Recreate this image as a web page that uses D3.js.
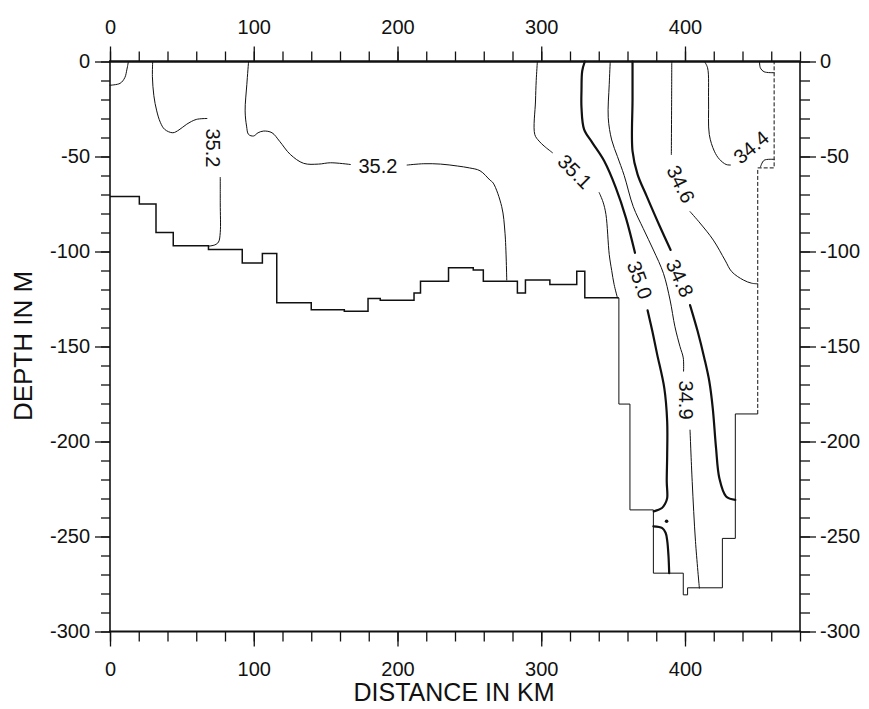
<!DOCTYPE html>
<html>
<head>
<meta charset="utf-8">
<script src="https://cdn.jsdelivr.net/npm/d3@7"></script>
<style>
  body { margin: 0; background: #fff; }
  svg text { font-family: "Liberation Sans", Arial, Helvetica, sans-serif; fill: #111; }
</style>
</head>
<body>
<svg id="fig"></svg>
<script>
var W = 869, H = 709;

// axis ticks
var kmTicks = [0, 100, 200, 300, 400];
var kmMinor = d3.range(0, 481, 20);
var depthTicks = [0, -50, -100, -150, -200, -250, -300];
var depthMinor = d3.range(0, -301, -10);

// sea floor: shelf (step after), trough (step before), open right edge
var shelfKm    = [0, 20.4, 32, 44, 68.5, 92, 106, 116, 140, 163, 179.5, 188, 211.5, 216, 235.5, 252.7, 259.7, 283.4, 289, 306, 324.7, 330.3, 354];
var shelfDepth = [-71, -75, -90, -97, -99, -106, -101, -127, -130.6, -131.5, -124.8, -125.7, -121.8, -115.6, -108.6, -109.7, -115.6, -121.8, -115, -117.4, -110.4, -124.4, -124.4];
var troughKm    = [354, 361.7, 378, 398.8, 401.8, 426, 435, 450.6];
var troughDepth = [-124.4, -180.3, -236, -269.3, -280.7, -277, -251, -185.5];
var edgeKm    = [450.6, 462, 462];
var edgeDepth = [-185.5, -56, 0];

// salinity contours, [km, depth], one array per unbroken piece
var c353Corner = [[12.8, 0], [11.8, -4], [10.3, -8.5], [7, -11.5], [0, -12.5]];
var c352WestA = [[29.7, 0], [29.5, -8], [30.5, -18], [32.5, -26], [35, -32], [38, -35.7], [43.7, -37.5], [48, -36], [53.4, -33], [60, -30.5], [67.4, -30]];
var c352WestB = [[76.7, -61], [76.7, -75], [76.7, -90], [75.5, -95], [73, -96.5], [68.5, -97.2]];
var c352MidA = [[96.4, 0], [95.2, -12], [94, -26], [95, -34], [96.4, -38.4], [99.9, -39.2], [103, -37.5], [106.9, -36.6], [112.7, -37.5], [118, -42], [125.4, -48.9], [134.7, -53.6], [145, -54], [153.3, -53.3], [167.2, -54.2]];
var c352MidB = [[206.7, -54.5], [218.3, -53.8], [230, -54], [241.6, -55], [250, -56], [257.4, -57.5], [264.3, -62.4], [266.6, -64], [272.5, -76.4], [274.8, -90.4], [276, -115]];
var c351A = [[297.3, 0], [296.5, -10], [296, -20.8], [295.5, -38.4], [298.5, -41.9], [302, -44.5], [307.8, -48]];
var c351B = [[340.3, -69], [343, -74], [345, -80.5], [347.3, -101.6], [349, -110], [350.7, -117.4], [353, -124.4]];
var c350A = [[330.3, 0], [328.5, -5], [328, -15], [328, -24.3], [329.8, -35.7], [335.6, -42.8], [343.8, -52.4], [351.9, -66.5], [358.9, -82.3], [365.2, -100.7]];
var c350B = [[374, -131], [377.3, -142], [380.6, -154], [385.6, -171.9], [387.6, -189.4], [387.6, -207], [387.3, -221], [387.6, -229.8], [386, -233], [384, -235], [378.3, -236.8]];
var c350C = [[378, -244.7], [384.2, -245.6], [386.5, -248], [387.6, -252], [388.5, -260], [389, -269.3]];
var c349A = [[348, 0], [347.3, -12], [346.6, -29.6], [349, -41.3], [353, -50], [357.7, -60], [364, -76.4], [371, -88], [378, -99.2], [385, -111.5], [389.6, -125.5], [393, -139.6], [396.5, -150], [398.8, -156], [399, -163]];
var c349B = [[403.5, -194], [405, -221], [407.3, -252.6], [410, -277.2]];
var c348A = [[363.5, 0], [363.5, -20], [363.5, -47.2], [367, -59.4], [373.4, -71], [382.6, -87], [390, -99.2]];
var c348B = [[403.5, -128.2], [408.8, -142], [413.4, -156], [416.9, -168.3], [419.3, -182.4], [421.6, -203.5], [423.9, -219.3], [428.6, -228.9], [435, -230.7]];
var c346A = [[390.8, 0], [390.7, -20], [390.5, -49]];
var c346B = [[403.5, -79], [410.4, -85], [419.7, -94], [427.8, -104.5], [432.5, -110.6], [440.6, -115], [446.4, -116.7], [450.6, -117]];
var c344A = [[413.5, 0], [415.7, -3.3], [416.4, -20.8], [416.9, -38.4], [420.4, -47.2], [424, -51.5], [428.6, -54.2], [431.6, -54.5]];
var c344B = [[452.5, -55.5], [455, -52], [462, -51.5]];
var c344Top = [[451.8, 0], [452.5, -3.5], [455, -5.4], [462, -5.9]];

var thinContours = [c353Corner, c352WestA, c352WestB, c352MidA, c352MidB, c351A, c351B, c349A, c349B, c346A, c346B, c344A, c344B, c344Top];
var thickContours = [c350A, c350B, c350C, c348A, c348B];

// contour labels
var labelText  = ["35.2", "35.2", "35.1", "35.0", "34.8", "34.6", "34.4", "34.9"];
var labelKm    = [71.7, 186.4, 323.5, 368.7, 396.5, 397.2, 445.9, 400.7];
var labelDepth = [-45.5, -54.7, -57.9, -115, -114, -64.5, -45, -178.2];
var labelAngle = [90, 0, 45, 70, 65, 64, -40, 90];

var spotKm = [387.2], spotDepth = [-242];

var svg = d3.select("#fig").attr("width", W).attr("height", H);

var x = d3.scaleLinear().domain([0, 480]).range([110, 800]);
var y = d3.scaleLinear().domain([0, -300]).range([61.5, 631.5]);

var fmt = function(d) { return String(d); };

function styleAxis(g) {
  g.select(".domain").remove();
  g.selectAll("line").attr("stroke", "#111").attr("stroke-width", 1.3);
  g.selectAll("text").attr("font-size", 20).attr("font-family", null).attr("fill", "#111");
}

// minor ticks
svg.append("g").attr("transform", "translate(0,61.5)")
  .call(d3.axisTop(x).tickValues(kmMinor).tickSize(10).tickFormat("")).call(styleAxis);
svg.append("g").attr("transform", "translate(0,631.5)")
  .call(d3.axisBottom(x).tickValues(kmMinor).tickSize(10).tickFormat("")).call(styleAxis);
svg.append("g").attr("transform", "translate(110,0)")
  .call(d3.axisLeft(y).tickValues(depthMinor).tickSize(9).tickFormat("")).call(styleAxis);
svg.append("g").attr("transform", "translate(800,0)")
  .call(d3.axisRight(y).tickValues(depthMinor).tickSize(10).tickFormat("")).call(styleAxis);

// major ticks with labels
svg.append("g").attr("transform", "translate(0,61.5)")
  .call(d3.axisTop(x).tickValues(kmTicks).tickSize(15).tickPadding(13).tickFormat(fmt)).call(styleAxis);
svg.append("g").attr("transform", "translate(0,631.5)")
  .call(d3.axisBottom(x).tickValues(kmTicks).tickSize(15).tickPadding(15).tickFormat(fmt)).call(styleAxis);
svg.append("g").attr("transform", "translate(110,0)")
  .call(d3.axisLeft(y).tickValues(depthTicks).tickSize(15).tickPadding(5).tickFormat(fmt)).call(styleAxis);
svg.append("g").attr("transform", "translate(800,0)")
  .call(d3.axisRight(y).tickValues(depthTicks).tickSize(16).tickPadding(4).tickFormat(fmt)).call(styleAxis);

// frame
var frame = svg.append("g").attr("stroke", "#111").attr("fill", "none");
frame.append("line").attr("x1", x(0) - 1).attr("x2", x(480) + 1).attr("y1", y(0)).attr("y2", y(0)).attr("stroke-width", 2.4);
frame.append("line").attr("x1", x(0) - 1).attr("x2", x(480) + 1).attr("y1", y(-300)).attr("y2", y(-300)).attr("stroke-width", 2.2);
frame.append("line").attr("x1", x(0)).attr("x2", x(0)).attr("y1", y(0)).attr("y2", y(-300)).attr("stroke-width", 1.6);
frame.append("line").attr("x1", x(480)).attr("x2", x(480)).attr("y1", y(0)).attr("y2", y(-300)).attr("stroke-width", 1.6);

// sea floor
function stepPath(xs, ys, curve) {
  return d3.line().x(function(d) { return x(d[0]); }).y(function(d) { return y(d[1]); }).curve(curve)(d3.zip(xs, ys));
}
var floor = svg.append("g").attr("fill", "none").attr("stroke", "#111");
floor.append("path").attr("d", stepPath(shelfKm, shelfDepth, d3.curveStepAfter)).attr("stroke-width", 1.5);
floor.append("path").attr("d", stepPath(troughKm, troughDepth, d3.curveStepBefore)).attr("stroke-width", 1);
floor.append("path").attr("d", stepPath(edgeKm, edgeDepth, d3.curveStepBefore)).attr("stroke-width", 1).attr("stroke-dasharray", "4,2");

// contours
var contourLine = d3.line().x(function(d) { return x(d[0]); }).y(function(d) { return y(d[1]); })
  .curve(d3.curveCatmullRom.alpha(0.5));
var cont = svg.append("g").attr("fill", "none").attr("stroke", "#111").attr("stroke-linecap", "round");
cont.selectAll("path.thin").data(thinContours).enter().append("path")
  .attr("class", "thin").attr("d", contourLine).attr("stroke-width", 1);
cont.selectAll("path.thick").data(thickContours).enter().append("path")
  .attr("class", "thick").attr("d", contourLine).attr("stroke-width", 2.2);

svg.selectAll("circle.spot").data(d3.zip(spotKm, spotDepth)).enter().append("circle")
  .attr("class", "spot").attr("cx", function(d) { return x(d[0]); }).attr("cy", function(d) { return y(d[1]); })
  .attr("r", 1.8).attr("fill", "#111");

// contour labels
svg.append("g").selectAll("text").data(labelText).enter().append("text")
  .attr("transform", function(d, i) {
    return "translate(" + x(labelKm[i]) + "," + y(labelDepth[i]) + ") rotate(" + labelAngle[i] + ")";
  })
  .attr("text-anchor", "middle")
  .attr("dy", "0.36em")
  .attr("font-size", 20)
  .text(function(d) { return d; });

// axis titles
svg.append("text").attr("x", 454).attr("y", 701).attr("text-anchor", "middle")
  .attr("font-size", 25).text("DISTANCE IN KM");
svg.append("text").attr("transform", "translate(32,346) rotate(-90)").attr("text-anchor", "middle")
  .attr("font-size", 26).text("DEPTH IN M");
</script>
</body>
</html>
